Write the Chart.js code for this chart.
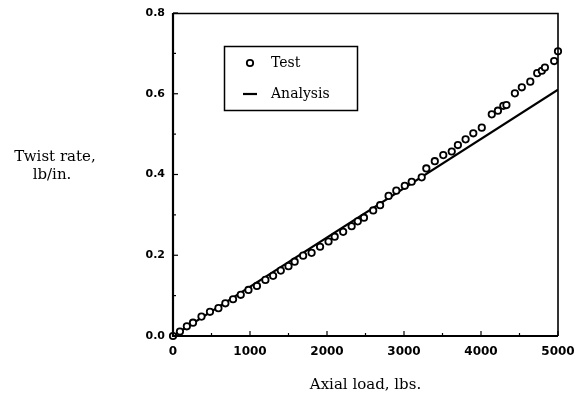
<!DOCTYPE html>
<html>
<head>
<meta charset="utf-8">
<script src="https://cdn.jsdelivr.net/npm/chart.js@4"></script>
<style>
  html, body { margin: 0; padding: 0; background: #fff; }
  #wrap { width: 575px; height: 398px; position: relative; }
</style>
</head>
<body>
<div id="wrap"><canvas id="myChart" width="575" height="398"></canvas></div>
<script>
// test points (axial load lbs, twist rate)
const testLoad = [0, 90, 180, 260, 370, 480, 590, 680, 780, 880, 980, 1090, 1200, 1300, 1400, 1500, 1580, 1690, 1800, 1910,
  2020, 2100, 2210, 2320, 2400, 2480, 2600, 2690, 2800, 2900, 3010, 3100, 3230, 3290, 3400, 3510, 3620, 3700, 3800, 3900,
  4010, 4140, 4220, 4290, 4330, 4440, 4530, 4640, 4730, 4790, 4830, 4950, 5000];
const testRate = [0, 0.011, 0.024, 0.033, 0.048, 0.060, 0.069, 0.081, 0.091, 0.102, 0.114, 0.124, 0.139, 0.149, 0.162, 0.173, 0.184, 0.199, 0.206, 0.221,
  0.234, 0.246, 0.258, 0.272, 0.284, 0.293, 0.311, 0.324, 0.347, 0.360, 0.372, 0.382, 0.393, 0.415, 0.433, 0.448, 0.457, 0.473, 0.487, 0.502,
  0.516, 0.549, 0.558, 0.570, 0.572, 0.601, 0.616, 0.630, 0.651, 0.657, 0.665, 0.681, 0.705];
// analysis line
const analysisLoad = [0, 5000];
const analysisRate = [0, 0.61];
const xTicks = [0, 1000, 2000, 3000, 4000, 5000];
const yTicks = [0, 0.2, 0.4, 0.6, 0.8];

const serif = "'DejaVu Serif', 'Liberation Serif', serif";
const sans = "'DejaVu Sans', Arial, sans-serif";

const ctx = document.getElementById('myChart');

// frame, inward ticks, y title and the boxed legend
const decor = {
  id: 'decor',
  afterDraw(chart) {
    const c = chart.ctx;
    const a = chart.chartArea;
    const xs = chart.scales.x, ys = chart.scales.y;
    c.save();
    c.strokeStyle = '#000';
    c.lineWidth = 1.6;
    c.beginPath();
    c.moveTo(a.left, a.top + 0.5); c.lineTo(a.right, a.top + 0.5); c.lineTo(a.right, a.bottom);
    c.stroke();
    c.lineWidth = 2.2;
    c.beginPath();
    c.moveTo(a.left, a.top); c.lineTo(a.left, a.bottom); c.lineTo(a.right, a.bottom);
    c.stroke();
    // ticks, major and minor
    c.lineWidth = 1.2;
    for (let v = 0; v <= 5000; v += 500) {
      const px = xs.getPixelForValue(v);
      const len = v % 1000 === 0 ? 5 : 3;
      c.beginPath(); c.moveTo(px, a.bottom); c.lineTo(px, a.bottom - len); c.stroke();
    }
    for (let i = 0; i <= 8; i++) {
      const py = ys.getPixelForValue(i / 10);
      const len = i % 2 === 0 ? 5 : 3;
      c.beginPath(); c.moveTo(a.left, py); c.lineTo(a.left + len, py); c.stroke();
    }
    // y title, horizontal
    c.fillStyle = '#000';
    c.font = '15px ' + serif;
    c.textAlign = 'center';
    c.textBaseline = 'middle';
    c.fillText('Twist rate,', 55, 157);
    c.fillText('lb/in.', 52, 175);
    // legend box
    c.lineWidth = 1.5;
    c.strokeRect(224.5, 46.5, 133, 64);
    c.beginPath();
    c.arc(250, 63, 3.2, 0, Math.PI * 2);
    c.fillStyle = '#fff'; c.fill();
    c.lineWidth = 1.8; c.stroke();
    c.lineWidth = 2.2;
    c.beginPath(); c.moveTo(243, 94); c.lineTo(257, 94); c.stroke();
    c.fillStyle = '#000';
    c.textAlign = 'left';
    c.font = '14px ' + serif;
    c.fillText('Test', 271, 63);
    c.fillText('Analysis', 271, 94);
    c.restore();
  }
};

const chart = new Chart(ctx, {
  type: 'scatter',
  data: {
    datasets: [{
      label: 'Test',
      data: testLoad.map((x, i) => ({ x: x, y: testRate[i] })),
      pointRadius: 3.2,
      pointBorderWidth: 1.8,
      pointBorderColor: '#000',
      pointBackgroundColor: '#fff',
      showLine: false,
      clip: false,
      order: 1
    }, {
      label: 'Analysis',
      data: analysisLoad.map((x, i) => ({ x: x, y: analysisRate[i] })),
      showLine: true,
      borderColor: '#000',
      borderWidth: 2.2,
      pointRadius: 0,
      order: 2
    }]
  },
  options: {
    responsive: false,
    animation: false,
    layout: { padding: { top: 13, right: 17, left: 0, bottom: 0 } },
    plugins: { legend: { display: false }, tooltip: { enabled: false } },
    scales: {
      x: {
        type: 'linear', min: 0, max: 5000,
        afterBuildTicks: s => { s.ticks = xTicks.map(v => ({ value: v })); },
        afterFit: s => { s.height = 62; s.paddingLeft = 0; s.paddingRight = 0; },
        grid: { display: false, drawTicks: false },
        border: { display: false },
        ticks: { color: '#000', padding: 9, maxRotation: 0, font: { family: sans, size: 12, weight: 'bold' }, callback: v => String(v) },
        title: { display: true, text: 'Axial load, lbs.', color: '#000', font: { family: serif, size: 15 }, padding: { top: 4 } }
      },
      y: {
        type: 'linear', min: 0, max: 0.8,
        afterBuildTicks: s => { s.ticks = yTicks.map(v => ({ value: v })); },
        afterFit: s => { s.width = 173; s.paddingTop = 0; s.paddingBottom = 0; },
        grid: { display: false, drawTicks: false },
        border: { display: false },
        ticks: { color: '#000', padding: 8, font: { family: sans, size: 11, weight: 'bold' }, callback: v => v.toFixed(1) }
      }
    }
  },
  plugins: [decor]
});
</script>
</body>
</html>
